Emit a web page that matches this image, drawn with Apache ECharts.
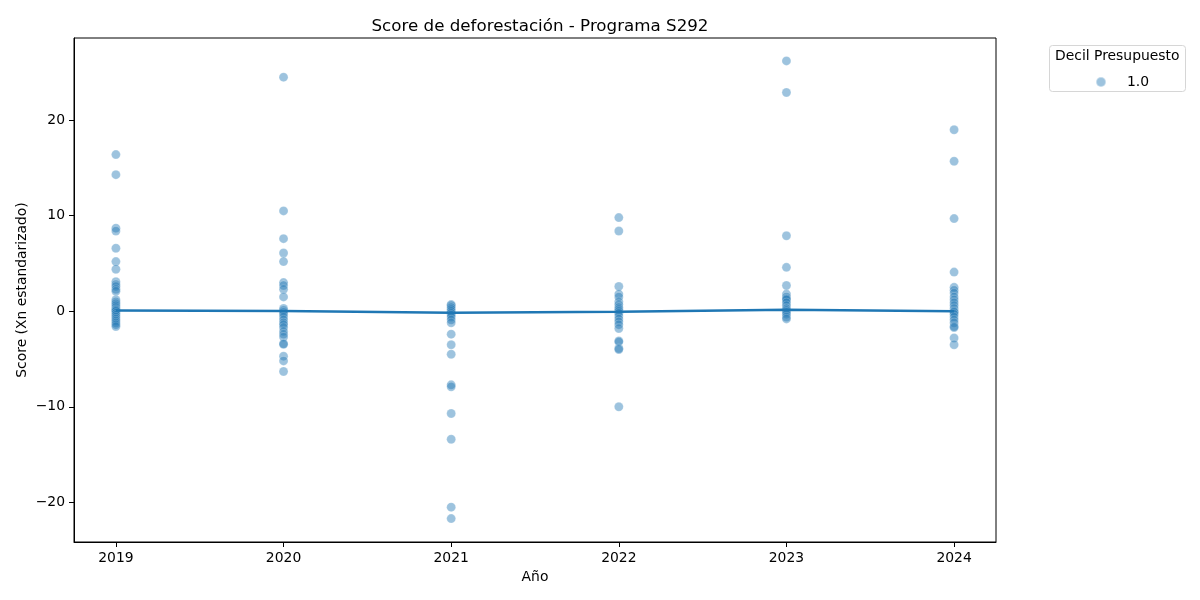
<!DOCTYPE html>
<html>
<head>
<meta charset="utf-8">
<script src="https://cdn.jsdelivr.net/npm/echarts@6/dist/echarts.min.js"></script>
<style>html,body{margin:0;padding:0;background:#fff}#c{width:1200px;height:600px}</style>
</head>
<body>
<div id="c"></div>
<script>
const years = [2019, 2020, 2021, 2022, 2023, 2024];
const scores2019 = [16.4, 14.3, 8.7, 8.4, 6.6, 5.2, 4.4, 3.1, 2.8, 2.6, 2.3, 2.1, 1.2, 1.0, 0.8, 0.6, 0.4, 0.2, 0.1, 0.0, -0.2, -0.4, -0.6, -0.8, -1.0, -1.2, -1.4, -1.6];
const scores2020 = [24.5, 10.5, 7.6, 6.1, 5.2, 3.0, 2.7, 2.3, 1.5, 0.3, 0.1, -0.1, -0.3, -0.6, -0.9, -1.2, -1.4, -1.7, -2.1, -2.4, -2.7, -3.4, -3.45, -4.7, -5.2, -6.3];
const scores2021 = [0.7, 0.6, 0.4, 0.2, 0.0, -0.2, -0.4, -0.6, -0.9, -1.2, -2.4, -3.5, -4.5, -7.7, -7.9, -10.7, -13.4, -20.5, -21.7];
const scores2022 = [9.8, 8.4, 2.6, 1.8, 1.5, 1.0, 0.7, 0.4, 0.2, 0.0, -0.2, -0.5, -0.8, -1.1, -1.4, -1.8, -3.1, -3.2, -3.9, -4.0, -10.0];
const scores2023 = [26.2, 22.9, 7.9, 4.6, 2.7, 1.8, 1.5, 1.3, 1.2, 0.9, 0.6, 0.3, 0.1, -0.1, -0.3, -0.6, -0.8];
const scores2024 = [19.0, 15.7, 9.7, 4.1, 2.5, 2.2, 1.9, 1.5, 1.2, 0.9, 0.6, 0.3, 0.0, -0.1, -0.3, -0.6, -0.9, -1.2, -1.6, -1.7, -2.8, -3.5];
const meanScores = [0.07, 0.03, -0.15, -0.05, 0.15, 0.0];
const yTicks = [-20, -10, 0, 10, 20];
const legendLabel = '1.0';

const allScores = [scores2019, scores2020, scores2021, scores2022, scores2023, scores2024];
const scatterData = [];
allScores.forEach((arr, i) => arr.forEach(v => scatterData.push([years[i], v])));
const lineData = years.map((y, i) => [y, meanScores[i]]);

const FONT = 'DejaVu Sans';
const chart = echarts.init(document.getElementById('c'), null, {renderer: 'canvas'});
chart.setOption({
  backgroundColor: '#fff',
  animation: false,
  title: {
    text: 'Score de deforestación - Programa S292',
    left: 535, top: 13, textAlign: 'center',
    textStyle: {fontFamily: FONT, fontSize: 16.7, fontWeight: 'normal', color: '#000'}
  },
  grid: {left: 74, right: 204, top: 38, bottom: 58, show: true, borderColor: '#000', borderWidth: 1, containLabel: false},
  legend: {
    data: [legendLabel],
    left: 1090, top: 70,
    icon: 'circle', itemWidth: 10, itemHeight: 10,
    textStyle: {fontFamily: FONT, fontSize: 13.9, color: '#000', padding: [0, 0, 0, 16]}
  },
  graphic: [
    {type: 'rect', left: 1049, top: 45, shape: {width: 136, height: 46, r: 3}, style: {fill: '#fff', stroke: '#d6d6d6', lineWidth: 1}, z: 0},
    {type: 'text', left: 1055, top: 49, style: {text: 'Decil Presupuesto', fontFamily: FONT, fontSize: 13.9, fill: '#000'}, z: 1}
  ],
  xAxis: {
    type: 'value', min: 2018.75, max: 2024.25,
    name: 'Año', nameLocation: 'middle', nameGap: 28, nameMoveOverlap: false,
    nameTextStyle: {fontFamily: FONT, fontSize: 13.9, color: '#000'},
    axisLine: {show: true, onZero: false, lineStyle: {color: '#000'}},
    axisTick: {show: true, length: 5, inside: false, customValues: years, lineStyle: {color: '#000'}},
    axisLabel: {customValues: years, margin: 9, fontFamily: FONT, fontSize: 13.9, color: '#000', formatter: v => String(v)},
    splitLine: {show: false}
  },
  yAxis: {
    type: 'value', min: -24.15, max: 28.6,
    name: 'Score (Xn estandarizado)', nameLocation: 'middle', nameGap: 45, nameRotate: 90, nameMoveOverlap: false,
    nameTextStyle: {fontFamily: FONT, fontSize: 13.9, color: '#000'},
    axisLine: {show: true, onZero: false, lineStyle: {color: '#000'}},
    axisTick: {show: true, length: 5, inside: false, customValues: yTicks, lineStyle: {color: '#000'}},
    axisLabel: {customValues: yTicks, margin: 9, fontFamily: FONT, fontSize: 13.9, color: '#000',
      formatter: v => (v < 0 ? '\u2212' + Math.abs(v) : String(v))},
    splitLine: {show: false}
  },
  series: [
    {
      name: legendLabel, type: 'scatter', data: scatterData,
      symbol: 'circle', symbolSize: 9,
      itemStyle: {color: 'rgba(31,119,180,0.55)', borderColor: 'rgba(255,255,255,0.5)', borderWidth: 0.5},
      z: 2
    },
    {
      name: 'media', type: 'line', data: lineData,
      symbol: 'none', lineStyle: {color: '#1f77b4', width: 2.5},
      z: 3
    }
  ]
});
</script>
</body>
</html>
